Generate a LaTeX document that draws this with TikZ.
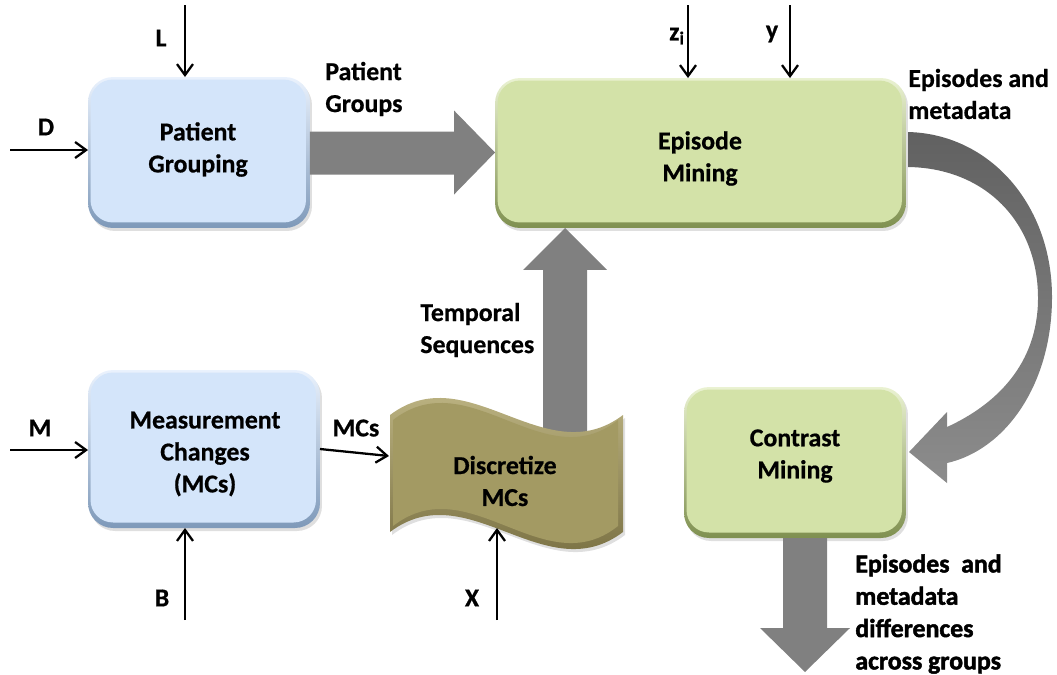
\documentclass[tikz,border=0pt]{standalone}
\usepackage{fontspec}
\setmainfont{Carlito}[BoldFeatures={FakeBold=0.6}]
\newfontfamily\heavyfont{Carlito}[BoldFeatures={FakeBold=1.8}]
\usetikzlibrary{arrows.meta,calc,shadows}
\definecolor{blueface}{HTML}{D4E5FA}
\definecolor{bluetop}{HTML}{EAF2FD}
\definecolor{blueedge}{HTML}{7E99B9}
\definecolor{greenface}{HTML}{D3E2A8}
\definecolor{greentop}{HTML}{EAF2D2}
\definecolor{greenedge}{HTML}{7F9050}
\definecolor{oliveface}{HTML}{A39A63}
\definecolor{olivetop}{HTML}{C9C08E}
\definecolor{oliveedge}{HTML}{6E6538}
\definecolor{arrowgray}{HTML}{808080}
\newcommand\figfont{\fontsize{14.7pt}{18.2pt}\selectfont\bfseries}
\newcommand\heavyfigfont{\heavyfont\fontsize{14.7pt}{18.4pt}\selectfont\bfseries}
\begin{document}
\begin{tikzpicture}[x=0.02cm,y=-0.02cm,
  box/.style={rectangle, rounded corners=0.5cm, outer sep=0pt, inner sep=0pt,
    drop shadow={opacity=0.25,shadow xshift=0.04cm,shadow yshift=-0.06cm}},
  bluebox/.style={box, top color=bluetop, bottom color=blueedge,
    path picture={\fill[blueface,rounded corners=0.45cm]
      ([xshift=0.05cm,yshift=-0.05cm]path picture bounding box.north west) rectangle
      ([xshift=-0.08cm,yshift=0.11cm]path picture bounding box.south east);}},
  greenbox/.style={box, top color=greentop, bottom color=greenedge,
    path picture={\fill[greenface,rounded corners=0.45cm]
      ([xshift=0.05cm,yshift=-0.05cm]path picture bounding box.north west) rectangle
      ([xshift=-0.08cm,yshift=0.11cm]path picture bounding box.south east);}},
  bigarrow/.style={fill=arrowgray},
  thin/.style={draw=black, line width=1.3pt, -{Straight Barb[length=2.2mm,width=3.2mm]}},
  lab/.style={font=\figfont, text=black, inner sep=0pt},
  boxtext/.style={lab, align=center},
  lablist/.style={lab, align=left, anchor=west}
]
\useasboundingbox (0,0) rectangle (1057,674);

% boxes
\node[bluebox, minimum width=4.44cm, minimum height=3.02cm] (pg) at (199,152.5) {};
\node[greenbox, minimum width=8.22cm, minimum height=3.0cm] (em) at (700.5,153) {};
\node[bluebox, minimum width=4.64cm, minimum height=3.16cm] (mc) at (204,449) {};
\node[greenbox, minimum width=4.44cm, minimum height=3.02cm] (cm) at (795,462.5) {};
\node[boxtext] (pgt) at (198,149.5) {Patient\\Grouping};
\node[boxtext] (emt) at (700,158.5) {Episode\\Mining};
\node[boxtext] (mct) at (205,454) {Measurement\\Changes\\(MCs)};
\node[boxtext] (cmt) at (795,456) {Contrast\\Mining};

% Patient Groups arrow
\coordinate (a1s) at (pg.east);
\coordinate (a1e) at (em.west |- pg.east);
\fill[bigarrow] ($(a1s)+(0,-21)$) -- ($(a1e)+(-41,-21)$) -- ($(a1e)+(-41,-42)$) -- (a1e)
  -- ($(a1e)+(-41,42)$) -- ($(a1e)+(-41,22)$) -- ($(a1s)+(0,22)$) -- cycle;

% Temporal Sequences arrow
\coordinate (tsb) at (565,445);
\coordinate (tst) at (tsb |- em.south);
\fill[bigarrow] ($(tsb)+(-22,0)$) -- ($(tst)+(-22,42)$) -- ($(tst)+(-42,42)$) -- (tst)
  -- ($(tst)+(42,42)$) -- ($(tst)+(22,42)$) -- ($(tsb)+(22,0)$) -- cycle;

% output arrow
\coordinate (dab) at ($(cm.south)+(10,0)$);
\coordinate (dat) at ($(dab)+(0,134)$);
\fill[bigarrow] ($(dab)+(-22,0)$) -- ($(dat)+(-22,-44)$) -- ($(dat)+(-45,-44)$) -- (dat)
  -- ($(dat)+(45,-44)$) -- ($(dat)+(22,-44)$) -- ($(dab)+(22,0)$) -- cycle;

% curved arrow
\shade[top color=black!62, bottom color=black!45]
  (908,132) .. controls (990,134) and (1052,205) .. (1052,297)
  .. controls (1052,385) and (1005,450) .. (947,463)
  -- (947,483) -- (909,452) -- (947,412) -- (947,427)
  .. controls (995,405) and (1038,365) .. (1038,298)
  .. controls (1038,222) and (985,168) .. (908,167) -- cycle;

% Discretize wave
\shade[top color=olivetop, bottom color=oliveedge,
  drop shadow={opacity=0.25,shadow xshift=0.04cm,shadow yshift=-0.06cm}]
  (390,415) .. controls (468,356) and (545,474) .. (623,415)
  -- (623,532) .. controls (545,591) and (468,473) .. (390,532) -- cycle;
\fill[oliveface]
  (393,420) .. controls (469,361) and (544,479) .. (618,420)
  -- (618,526) .. controls (544,585) and (469,467) .. (393,526) -- cycle;
\node[boxtext] (dm) at (505,481) {Discretize\\MCs};
\coordinate (dmL) at (389,456);
\coordinate (dmB) at (497,528);

% inputs
\coordinate (Lin) at (185,5);
\coordinate (Din) at (10,150);
\coordinate (Min) at (10,450);
\coordinate (Bin) at (185,620);
\coordinate (Xin) at (497,620);
\coordinate (zin) at (688,5);
\coordinate (yin) at (790,5);
\draw[thin] (Lin) -- (Lin |- pg.north);
\draw[thin] (Din) -- (Din -| pg.west);
\draw[thin] (zin) -- (zin |- em.north);
\draw[thin] (yin) -- (yin |- em.north);
\draw[thin] (Min) -- (Min -| mc.west);
\draw[thin] (Bin) -- (Bin |- mc.south);
\draw[thin] (mc.east) -- (dmL);
\draw[thin] (Xin) -- (dmB);

% labels
\node[lab] (tL) at (161,38) {L};
\node[lab] (tD) at (46,127) {D};
\node[lab] (tM) at (40,428) {M};
\node[lab] (tB) at (162,598) {B};
\node[lab] (tX) at (472,598) {X};
\node[lab] (tz) at (677,36) {z\textsubscript{i}};
\node[lab] (ty) at (772,34) {y};
\node[lab] (tMC) at (356,428) {MCs};
\node[lablist] (tPG) at (325,89) {Patient\\Groups};
\node[lablist] (tTS) at (420,330) {Temporal\\Sequences};
\node[lablist] (tEM) at (908,94) {Episodes and\\metadata};
\node[lablist, font=\heavyfigfont] (tOut) at (855,614) {Episodes~ and\\metadata\\differences\\across groups};
\end{tikzpicture}
\end{document}
